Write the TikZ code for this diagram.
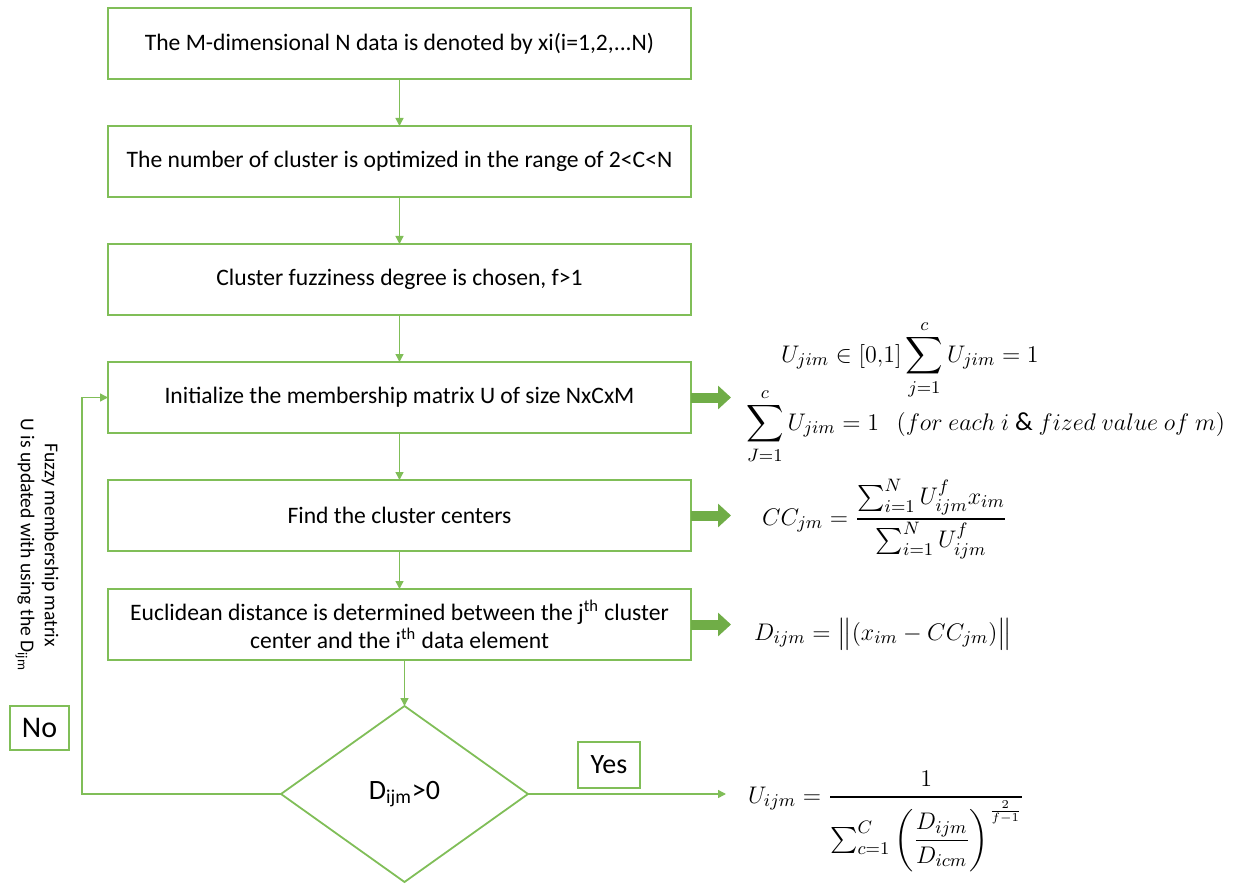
\documentclass[tikz,border=0pt]{standalone}
\usepackage{amsmath}
\usepackage{amssymb}
\usepackage{fontspec}
\setmainfont{Carlito}
\usepackage{tikz}
\usetikzlibrary{arrows.meta}
\usetikzlibrary{shapes.geometric}
\usetikzlibrary{positioning}

\definecolor{fcgreen}{HTML}{70AD47}
\definecolor{fcline}{HTML}{80BE58}

\begin{document}
\begin{tikzpicture}[x=0.5pt,y=-0.5pt,>={Triangle[length=4pt,width=4pt]},node distance=23.5pt,auto,outer sep=0pt]
 	\tikzstyle{box}=[draw=fcline, line width=0.9pt, fill=white, minimum width=291.5pt, minimum height=35.5pt, align=center, inner sep=2pt, font=\fontsize{11.8}{14}\selectfont]
 	\tikzstyle{flow}=[->, fcline, line width=0.7pt]
 	\tikzstyle{fat}=[-{Triangle[length=6.5pt,width=11.5pt]}, fcgreen, line width=5pt]
 	\tikzstyle{tag}=[draw=fcline, line width=0.9pt, inner sep=0pt, font=\fontsize{14}{16}\selectfont]
 	\tikzstyle{formula}=[inner sep=0pt, anchor=base west, font=\fontsize{13}{16}\selectfont]
 	\useasboundingbox (0,0) rectangle (1233,888);
 		 \node[box] 	(B1) at (399.5,43.5) {The M-dimensional N data is denoted by xi(i=1,2,...N)};
 		 \node[box] 	(B2) [below=of B1] {The number of cluster is optimized in the range of 2<C<N};
 		 \node[box] 	(B3) [below=of B2] {Cluster fuzziness degree is chosen, f>1};
 		 \node[box] 	(B4) [below=of B3] {Initialize the membership matrix U of size NxCxM};
 		 \node[box] 	(B5) [below=of B4] {Find the cluster centers};
 		 \node[box] 	(B6) [below=19pt of B5] {Euclidean distance is determined between the j\textsuperscript{th} cluster\\center and the i\textsuperscript{th} data element};
 		 \node[diamond, draw=fcline, line width=0.9pt, minimum width=123.5pt, minimum height=88pt, inner sep=0pt, font=\fontsize{14}{16}\selectfont]
 		 		(D) [below=23pt of B6, xshift=2.5pt] {D\textsubscript{ijm}>0};
 		 \node[tag, minimum width=29.5pt, minimum height=22pt, font=\fontsize{15}{17}\selectfont] (No) at (39.5,728) {No};
 		 \node[tag, minimum width=31pt, minimum height=23pt] (Yes) at (609,765) {Yes};
 		 \node[rotate=-90, align=center, font=\fontsize{9.8}{12}\selectfont] (Note) at (37,545)
 		 		{Fuzzy membership matrix\\U is updated with using the D\textsubscript{ijm}};
 		 % formulas on the right
 		 \node[formula] (F1) at (781,362) {$U_{jim} \in [0{,}1] \displaystyle\sum_{j=1}^{c} U_{jim} = 1$};
 		 \node[formula] (F2) at (746,430) {$\displaystyle\sum_{J=1}^{c} U_{jim} = 1 \ \ \ (for\ each\ i\ \&\ fized\ value\ of\ m)$};
 		 \node[formula] (F3) at (762,525) {$CC_{jm} = \dfrac{\sum_{i=1}^{N} U_{ijm}^{f} x_{im}}{\sum_{i=1}^{N} U_{ijm}^{f}}$};
 		 \node[formula] (F4) at (754,640) {$D_{ijm} = \bigl\|(x_{im} - CC_{jm})\bigr\|$};
 		 \node[formula] (F5) at (748,803) {$U_{ijm} = \dfrac{1}{\sum_{c=1}^{C} \left(\dfrac{D_{ijm}}{D_{icm}}\right)^{\frac{2}{f-1}}}$};
 		 \coordinate[left=13pt of B4] (Turn);
 		 \coordinate[right=99pt of D] (YesEnd);
 		 \path[flow]
 		 		(B1) edge (B2)
 		 		(B2) edge (B3)
 		 		(B3) edge (B4)
 		 		(B4) edge (B5)
 		 		(B5) edge (B6)
 		 		(B6.south -| D.north) edge (D.north);
 		 \draw[flow] (D.west) -| (Turn) -- (B4.west);
 		 \draw[flow] (D.east) -- (YesEnd);
 		 \foreach \b in {B4,B5,B6} {
 		 		\coordinate (\b tip) at ([xshift=20pt]\b.east);
 		 		\draw[fat] (\b.east) -- (\b tip);
 		 }
\end{tikzpicture}
\end{document}
